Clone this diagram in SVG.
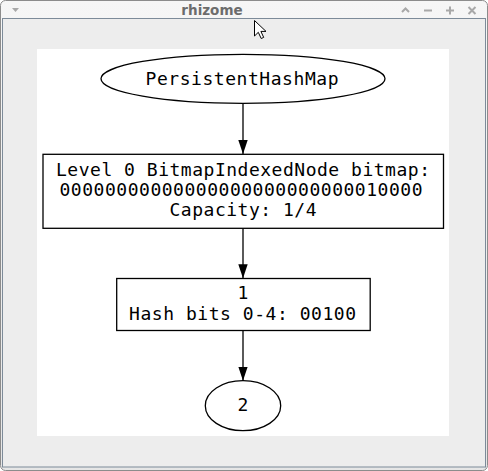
<svg xmlns="http://www.w3.org/2000/svg" width="488" height="471" viewBox="0 0 488 471">
<defs>
<linearGradient id="tb" x1="0" y1="0" x2="0" y2="1">
<stop offset="0" stop-color="#f6f6f6"/>
<stop offset="1" stop-color="#e6e6e6"/>
</linearGradient>
<marker id="ah" viewBox="0 0 14 9.4" refX="14" refY="4.7" markerWidth="14" markerHeight="9.4" markerUnits="userSpaceOnUse" orient="auto">
<path d="M0,0 L14,4.7 L0,9.4 z" fill="#000"/>
</marker>
</defs>
<style>
.shape{fill:#fff;stroke:#000;stroke-width:1.3}
.lbl{font-family:"DejaVu Sans Mono",monospace;font-size:18px;fill:#000;text-anchor:middle}
.edge{stroke:#000;stroke-width:1.3;fill:none}
.btn{stroke:#a8a8a8;stroke-width:2;fill:none}
</style>
<g id="window">
<rect x="0.5" y="0.5" width="487" height="470" rx="5" fill="url(#tb)" stroke="#8c8c8c"/>
<rect x="2.5" y="18.5" width="483" height="448.5" fill="#ededed" stroke="#7d8b99"/>
<rect x="37" y="49" width="412" height="387" fill="#fff"/>
<text x="212" y="15" font-family="'DejaVu Sans',sans-serif" font-size="13.5" font-weight="bold" fill="#6c6c6c" text-anchor="middle">rhizome</text>
<path d="M12,8 L19,8 L15.5,12 z" fill="#a8a8a8"/>
<path class="btn" d="M402,12 L405.5,8.5 L409,12"/>
<path class="btn" d="M424,10.5 L432,10.5"/>
<path class="btn" d="M446,10.5 L454,10.5 M450,6.5 L450,14.5"/>
<path class="btn" d="M468.5,7 L475.5,14 M475.5,7 L468.5,14"/>
<path d="M254.5,20.5 L254.5,36 L258.3,32.3 L261.2,38.5 L263.7,37.4 L260.9,31.4 L266,31.4 z" fill="#fff" stroke="#000" stroke-width="1" stroke-linejoin="round"/>
</g>
<g id="connectors">
<line class="edge" x1="243" y1="103.3" x2="243" y2="154" marker-end="url(#ah)"/>
<line class="edge" x1="243" y1="228.3" x2="243" y2="278.3" marker-end="url(#ah)"/>
<line class="edge" x1="243" y1="330.5" x2="243" y2="380.7" marker-end="url(#ah)"/>
</g>
<g id="node-phm">
<ellipse class="shape" cx="243" cy="78.8" rx="142" ry="24.5"/>
<text class="lbl" x="242" y="84.5" textLength="193" lengthAdjust="spacing">PersistentHashMap</text>
</g>
<g id="node-level0">
<rect class="shape" x="43" y="154.3" width="400.5" height="74"/>
<text class="lbl" x="243" y="176.4" textLength="374" lengthAdjust="spacing">Level 0 BitmapIndexedNode bitmap:</text>
<text class="lbl" x="241" y="195.8" textLength="363" lengthAdjust="spacing">00000000000000000000000000010000</text>
<text class="lbl" x="243" y="215.5" textLength="147" lengthAdjust="spacing">Capacity: 1/4</text>
</g>
<g id="node-1">
<rect class="shape" x="116.7" y="278.5" width="253.5" height="52"/>
<text class="lbl" x="243" y="298.9">1</text>
<text class="lbl" x="242.5" y="319.6" textLength="227" lengthAdjust="spacing">Hash bits 0-4: 00100</text>
</g>
<g id="node-2">
<ellipse class="shape" cx="243" cy="405.7" rx="37.7" ry="25"/>
<text class="lbl" x="243" y="411">2</text>
</g>
</svg>
